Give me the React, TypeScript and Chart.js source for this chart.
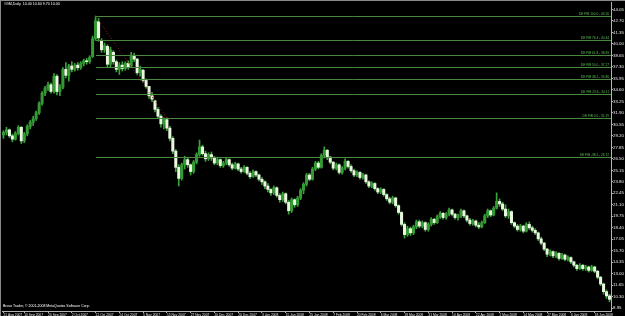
import React, { useEffect, useRef } from "react";
import { Chart, registerables } from "chart.js";

Chart.register(...registerables);

const symbolTitle = "#GM,Daily";
const copyright = "Bravo Trader, \u00A9 2001-2008 MetaQuotes Software Corp.";

const opens = [
  29.3, 29.6, 29.9, 29.2, 28.8, 29.5, 30.2, 28.6, 29.4, 30.3,
  30.8, 31.2, 31.9, 33.0, 34.2, 34.8, 35.2, 34.4, 36.2, 34.4,
  34.9, 37.0, 36.3, 37.4, 37.0, 37.5, 37.2, 37.7, 38.0, 37.9,
  38.5, 40.6, 42.6, 40.4, 39.3, 39.7, 37.6, 39.0, 37.9, 37.0,
  37.5, 37.1, 37.7, 37.4, 38.6, 38.2, 36.6, 36.9, 35.7, 35.0,
  33.9, 33.3, 32.3, 31.5, 30.6, 31.1, 30.1, 28.9, 27.4, 25.5,
  24.2, 25.8, 26.4, 25.8, 25.0, 26.1, 27.0, 27.9, 27.1, 26.5,
  27.0, 26.6, 26.0, 26.4, 25.7, 26.0, 26.4, 25.8, 25.4, 25.9,
  25.3, 25.0, 25.5, 24.8, 24.4, 25.0, 24.6, 24.1, 23.8, 23.3,
  22.9, 22.5, 23.1, 22.2, 21.7, 22.4, 21.4, 20.4, 21.7, 21.1,
  21.9, 22.8, 23.5, 24.6, 24.1, 25.3, 26.0, 25.5, 26.9, 27.5,
  26.7, 26.1, 25.4, 25.8, 24.9, 25.4, 26.2, 25.6, 25.1, 24.6,
  24.9, 24.3, 24.6, 23.8, 23.3, 23.6, 23.0, 22.6, 22.9, 22.3,
  21.8, 21.4, 21.9, 21.0, 20.2, 18.8, 17.6, 18.3, 17.8, 18.5,
  19.1, 18.6, 19.0, 18.2, 18.8, 19.4, 19.0, 19.7, 20.1, 19.6,
  20.0, 20.5, 20.0, 19.6, 19.8, 20.4, 19.8, 19.3, 18.9, 19.2,
  18.7, 18.5, 19.0, 19.8, 20.4, 19.9, 20.7, 21.5, 21.2, 20.6,
  19.8, 20.3, 19.0, 18.6, 18.2, 18.6, 18.0, 18.8, 18.4, 18.1,
  17.8, 17.1, 16.6, 15.9, 15.3, 15.6, 15.1, 15.4, 14.8, 15.2,
  14.7, 14.9, 14.4, 14.0, 13.6, 14.0, 13.6, 13.8, 13.4, 13.8,
  13.3, 12.6, 11.8, 10.9, 10.4,
];

const highs = [
  29.8, 30.2, 30.0, 29.4, 29.7, 30.4, 30.3, 29.6, 30.5, 31.0,
  31.5, 32.1, 33.2, 34.4, 35.0, 35.5, 35.4, 36.5, 36.4, 35.2,
  37.2, 37.8, 37.6, 37.9, 37.7, 37.8, 37.9, 38.2, 38.3, 38.6,
  40.9, 43.26, 43.0, 40.6, 40.1, 39.9, 39.6, 39.2, 38.1, 37.8,
  37.9, 37.9, 38.0, 39.0, 38.9, 38.3, 37.4, 37.0, 35.9, 35.0,
  34.3, 33.4, 32.5, 31.7, 31.3, 31.3, 30.3, 29.1, 27.6, 25.8,
  26.0, 26.8, 26.6, 25.9, 26.3, 27.2, 28.7, 28.1, 27.4, 27.2,
  27.3, 26.8, 26.6, 26.5, 26.2, 26.6, 26.5, 26.0, 26.1, 26.0,
  25.5, 25.7, 25.6, 25.0, 25.2, 25.1, 24.7, 24.3, 23.9, 23.6,
  23.0, 23.3, 23.2, 22.4, 22.6, 22.5, 21.6, 21.9, 21.8, 22.1,
  23.0, 23.7, 24.8, 24.8, 25.5, 26.2, 26.2, 27.1, 27.9, 27.6,
  26.8, 26.2, 26.0, 25.9, 25.6, 26.5, 26.3, 25.8, 25.3, 25.1,
  25.0, 24.8, 24.7, 23.9, 23.8, 23.7, 23.1, 23.1, 23.0, 22.4,
  22.0, 22.1, 22.0, 21.1, 20.3, 19.0, 18.6, 18.5, 18.7, 19.3,
  19.3, 19.2, 19.1, 19.0, 19.6, 19.5, 19.9, 20.3, 20.2, 20.2,
  20.7, 20.6, 20.1, 20.0, 20.6, 20.5, 19.9, 19.5, 19.4, 19.3,
  19.0, 19.2, 20.0, 20.6, 20.5, 20.9, 22.5, 21.8, 21.4, 21.1,
  20.6, 20.4, 19.1, 18.8, 18.8, 18.7, 19.0, 19.1, 18.6, 18.3,
  17.9, 17.3, 16.7, 16.0, 15.8, 15.7, 15.6, 15.5, 15.4, 15.3,
  15.1, 15.0, 14.5, 14.1, 14.2, 14.1, 14.0, 13.9, 14.0, 13.9,
  13.4, 12.7, 11.9, 11.1, 10.6,
];

const lows = [
  28.9, 29.3, 29.0, 28.5, 28.7, 29.3, 28.3, 28.4, 29.2, 30.0,
  30.4, 31.0, 31.7, 32.8, 33.9, 34.5, 34.2, 34.2, 34.0, 33.9,
  34.7, 36.0, 35.6, 36.7, 36.8, 36.9, 37.0, 37.4, 37.6, 37.7,
  38.4, 40.4, 40.3, 39.0, 39.0, 37.3, 37.2, 37.6, 36.7, 36.4,
  36.8, 36.9, 37.0, 37.2, 37.9, 36.4, 36.2, 35.5, 34.8, 33.6,
  33.2, 32.0, 31.2, 30.2, 30.0, 29.8, 28.6, 27.1, 25.0, 23.3,
  24.0, 25.3, 25.5, 24.6, 24.8, 25.9, 26.8, 26.9, 26.2, 26.3,
  26.3, 25.8, 25.8, 25.5, 25.5, 25.8, 25.6, 25.2, 25.3, 25.1,
  24.8, 24.9, 24.6, 24.2, 24.3, 24.4, 23.9, 23.5, 23.0, 22.6,
  22.2, 22.3, 22.0, 21.4, 21.5, 21.2, 20.0, 20.2, 20.8, 20.9,
  21.7, 22.4, 23.3, 23.9, 24.0, 25.1, 25.3, 25.4, 26.6, 26.4,
  25.9, 25.2, 25.2, 24.7, 24.7, 25.2, 25.4, 24.9, 24.4, 24.4,
  24.1, 24.1, 23.6, 23.1, 23.1, 22.8, 22.4, 22.4, 22.1, 21.6,
  21.2, 21.2, 20.8, 20.0, 18.6, 17.2, 17.4, 17.5, 17.6, 18.3,
  18.4, 18.4, 18.0, 18.0, 18.6, 18.8, 18.9, 19.5, 19.4, 19.4,
  19.8, 19.8, 19.4, 19.3, 19.6, 19.6, 19.1, 18.7, 18.7, 18.5,
  18.3, 18.4, 18.9, 19.6, 19.7, 19.8, 20.6, 20.9, 20.4, 19.6,
  19.5, 18.8, 18.4, 18.0, 18.0, 17.8, 17.9, 18.2, 17.9, 17.6,
  16.9, 16.4, 15.7, 15.0, 15.1, 14.9, 14.9, 14.6, 14.7, 14.5,
  14.5, 14.2, 13.8, 13.4, 13.5, 13.4, 13.4, 13.2, 13.3, 13.1,
  12.4, 11.6, 10.6, 10.1, 9.7,
];

const closes = [
  29.6, 29.9, 29.2, 28.8, 29.5, 30.2, 28.6, 29.4, 30.3, 30.8,
  31.2, 31.9, 33.0, 34.2, 34.8, 35.2, 34.4, 36.2, 34.4, 34.9,
  37.0, 36.3, 37.4, 37.0, 37.5, 37.2, 37.7, 38.0, 37.9, 38.4,
  40.6, 42.7, 40.7, 39.3, 39.8, 37.6, 39.3, 37.9, 37.0, 37.5,
  37.1, 37.7, 37.3, 38.6, 38.2, 36.6, 37.0, 35.7, 35.0, 33.9,
  33.5, 32.3, 31.5, 30.6, 31.1, 30.1, 28.9, 27.4, 25.5, 24.2,
  25.8, 26.4, 25.8, 25.0, 26.1, 27.0, 27.9, 27.1, 26.5, 27.0,
  26.6, 26.0, 26.4, 25.7, 26.0, 26.4, 25.8, 25.4, 25.9, 25.3,
  25.0, 25.5, 24.8, 24.4, 25.0, 24.6, 24.1, 23.8, 23.3, 22.9,
  22.5, 23.1, 22.2, 21.7, 22.4, 21.4, 20.4, 21.7, 21.1, 21.9,
  22.8, 23.5, 24.6, 24.1, 25.3, 26.0, 25.5, 26.9, 27.5, 26.7,
  26.1, 25.4, 25.8, 24.9, 25.4, 26.2, 25.6, 25.1, 24.6, 24.9,
  24.3, 24.6, 23.8, 23.3, 23.6, 23.0, 22.6, 22.9, 22.3, 21.8,
  21.4, 21.9, 21.0, 20.2, 18.8, 17.6, 18.3, 17.8, 18.5, 19.1,
  18.6, 19.0, 18.2, 18.8, 19.4, 19.0, 19.7, 20.1, 19.6, 20.0,
  20.5, 20.0, 19.6, 19.8, 20.4, 19.8, 19.3, 18.9, 19.2, 18.7,
  18.5, 19.0, 19.8, 20.4, 19.9, 20.7, 21.5, 21.2, 20.6, 19.8,
  20.3, 19.0, 18.6, 18.2, 18.6, 18.0, 18.8, 18.4, 18.1, 17.8,
  17.1, 16.6, 15.9, 15.3, 15.6, 15.1, 15.4, 14.8, 15.2, 14.7,
  14.9, 14.4, 14.0, 13.6, 14.0, 13.6, 13.8, 13.4, 13.8, 13.3,
  12.6, 11.8, 10.9, 10.4, 10.0,
];

const tickLabels = [
  "21 Aug 2007", "10 Sep 2007", "20 Sep 2007", "2 Oct 2007", "12 Oct 2007",
  "24 Oct 2007", "5 Nov 2007", "15 Nov 2007", "27 Nov 2007", "10 Dec 2007",
  "20 Dec 2007", "3 Jan 2008", "15 Jan 2008", "25 Jan 2008", "7 Feb 2008",
  "20 Feb 2008", "6 Mar 2008", "18 Mar 2008", "31 Mar 2008", "10 Apr 2008",
  "22 Apr 2008", "2 May 2008", "14 May 2008", "27 May 2008", "6 Jun 2008",
  "18 Jun 2008",
];
const firstTickBar = 7;
const tickEvery = 8;

const yTicks = [
  44.05, 42.7, 41.35, 40.0, 38.65, 37.3, 35.95, 34.6, 33.25, 31.9,
  30.55, 29.2, 27.85, 26.5, 25.15, 23.8, 22.45, 21.1, 19.75, 18.4,
  17.05, 15.7, 14.35, 13.0, 11.65, 10.3, 8.95,
];
const yMin = 8.63;
const yMax = 44.91;

const fibHigh = 43.26;
const fibLow = 31.29;
const fibStartBar = 31;
const fibEndBar = 55;
const fibLevels = [100, 76.4, 61.8, 50, 38.2, 23.6, 0, -38.2];

const FONT = "'Liberation Sans', Arial, sans-serif";

function tickText(i: number): string {
  if (i === 0) return tickLabels[0];
  if (i >= firstTickBar && (i - firstTickBar) % tickEvery === 0) {
    const k = 1 + (i - firstTickBar) / tickEvery;
    return k < tickLabels.length ? tickLabels[k] : "";
  }
  return "";
}

const mtPlugin = {
  id: "mtDecor",
  beforeDraw(chart: any) {
    const { ctx, width, height } = chart;
    ctx.save();
    ctx.fillStyle = "#000000";
    ctx.fillRect(0, 0, width, height);
    ctx.fillStyle = "#8a8a8a";
    ctx.fillRect(0, 0, width, 1);
    ctx.fillRect(0, 0, 1, height);
    ctx.restore();
  },
  afterDatasetsDraw(chart: any) {
    const { ctx, chartArea } = chart;
    const xs = chart.scales.x;
    const ys = chart.scales.y;
    const x0 = Math.round(xs.getPixelForValue(fibStartBar));
    ctx.save();
    ctx.beginPath();
    ctx.rect(chartArea.left, chartArea.top, chartArea.right - chartArea.left, chartArea.bottom - chartArea.top);
    ctx.clip();
    ctx.lineWidth = 1;
    ctx.strokeStyle = "#4a8a40";
    fibLevels.forEach((lvl) => {
      const v = fibLow + ((fibHigh - fibLow) * lvl) / 100;
      const py = Math.round(ys.getPixelForValue(v)) + 0.5;
      ctx.beginPath();
      ctx.moveTo(x0, py);
      ctx.lineTo(chartArea.right, py);
      ctx.stroke();
      ctx.fillStyle = "#5cbf52";
      ctx.font = `3.2px ${FONT}`;
      ctx.textAlign = "right";
      ctx.textBaseline = "bottom";
      ctx.fillText(`DE FIB ${lvl.toFixed(1)} - ${v.toFixed(2)}`, chartArea.right - 2, py - 0.5);
    });
    ctx.restore();
  },
  afterDraw(chart: any) {
    const { ctx, chartArea } = chart;
    const n = closes.length - 1;
    ctx.save();
    ctx.fillStyle = "#ffffff";
    ctx.font = `3.6px ${FONT}`;
    ctx.textAlign = "left";
    ctx.textBaseline = "top";
    ctx.fillText(
      `${symbolTitle}  ${opens[n].toFixed(2)} ${highs[n].toFixed(2)} ${lows[n].toFixed(2)} ${closes[n].toFixed(2)}`,
      chartArea.left + 2,
      2.5
    );
    ctx.font = `3.5px ${FONT}`;
    ctx.textBaseline = "bottom";
    ctx.fillText(copyright, chartArea.left + 1, chartArea.bottom - 3.5);
    ctx.restore();
  },
};

export default function App() {
  const ref = useRef<HTMLCanvasElement | null>(null);

  useEffect(() => {
    if (!ref.current) return;
    const labels = closes.map((_, i) => String(i));
    const chart = new Chart(ref.current, {
      type: "bar",
      data: {
        labels,
        datasets: [
          {
            type: "line",
            data: labels.map((_, i) => (i === fibStartBar ? fibHigh : i === fibEndBar ? fibLow : null)),
            spanGaps: true,
            borderColor: "#a41c1c",
            borderWidth: 1,
            borderDash: [1, 2],
            pointRadius: 0,
            order: 0,
          } as any,
          {
            type: "bar",
            data: lows.map((l, i) => [l, highs[i]]),
            backgroundColor: "#3aa33a",
            barThickness: 1,
            grouped: false,
            order: 2,
          } as any,
          {
            type: "bar",
            data: opens.map((o, i) => [o, closes[i]]),
            backgroundColor: opens.map((o, i) => (closes[i] > o ? "#349a34" : "#e9f7df")),
            barThickness: 2.4,
            grouped: false,
            minBarLength: 1,
            order: 1,
          } as any,
        ],
      },
      options: {
        animation: false,
        responsive: false,
        maintainAspectRatio: false,
        layout: { padding: { left: 2, top: 2, right: 0, bottom: 0 } },
        plugins: { legend: { display: false }, tooltip: { enabled: false } },
        scales: {
          x: {
            type: "category",
            offset: true,
            grid: {
              display: true,
              drawOnChartArea: false,
              drawTicks: true,
              tickLength: 2,
              offset: false,
              color: (c: any) => (tickText(c.index) ? "#b4b4b4" : "rgba(0,0,0,0)"),
            },
            border: { display: true, color: "#b4b4b4" },
            ticks: {
              autoSkip: false,
              maxRotation: 0,
              minRotation: 0,
              align: "start",
              padding: 0,
              color: "#e6e6e6",
              font: { size: 3.3, family: FONT, lineHeight: 1 },
              callback: (_v: any, i: number) => tickText(i),
            },
            afterFit: (s: any) => {
              s.height = 5;
              s.paddingLeft = 0;
              s.paddingRight = 0;
              s.paddingTop = 0;
              s.paddingBottom = 0;
            },
          },
          y: {
            type: "linear",
            position: "right",
            min: yMin,
            max: yMax,
            afterBuildTicks: (s: any) => {
              s.ticks = yTicks.map((v) => ({ value: v }));
            },
            grid: { display: true, drawOnChartArea: false, tickLength: 2, color: "#b4b4b4" },
            border: { display: true, color: "#b4b4b4" },
            ticks: {
              autoSkip: false,
              padding: 0,
              color: "#e6e6e6",
              font: { size: 4.4, family: FONT, lineHeight: 1 },
              callback: (v: any) => Number(v).toFixed(2),
            },
            afterFit: (s: any) => {
              s.width = 14;
              s.paddingLeft = 0;
              s.paddingRight = 0;
              s.paddingTop = 0;
              s.paddingBottom = 0;
            },
          },
        },
      } as any,
      plugins: [mtPlugin],
    });
    return () => chart.destroy();
  }, []);

  return (
    <div style={{ position: "fixed", left: 0, top: 0, width: 625, height: 316, background: "#000" }}>
      <canvas ref={ref} width={625} height={316} style={{ display: "block", width: 625, height: 316 }} />
    </div>
  );
}
